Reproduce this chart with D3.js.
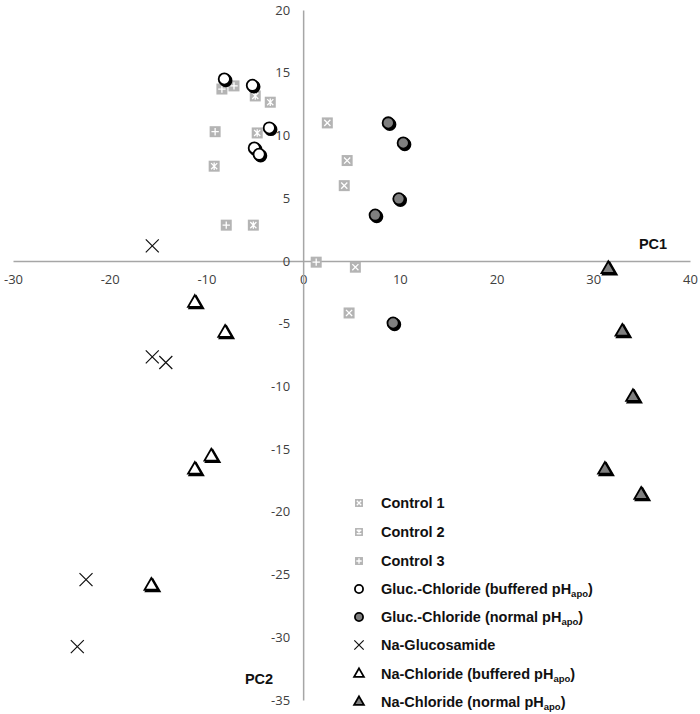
<!DOCTYPE html>
<meta charset="utf-8">
<style>
    body { margin: 0; background: #fff; }
    svg { display: block; }
    .tick text { font-family: "Open Sans", "Liberation Sans", sans-serif; font-size: 13px; fill: #404040; }
    .lbl { font-family: "Liberation Sans", Arial, sans-serif; font-weight: bold; font-size: 14.5px; fill: #111; }
</style>
<body>
<svg id="chart" width="700" height="714"></svg>
<script src="https://d3js.org/d3.v7.min.js"></script>
<script>
    // values, [PC1, PC2]
    var control1 = [[2.5, 11.0], [4.55, 8.0], [4.25, 6.0], [5.4, -0.5], [4.75, -4.15]];
    var control2 = [[-4.95, 13.15], [-3.4, 12.65], [-4.75, 10.2], [-9.2, 7.55], [-5.15, 2.85]];
    var control3 = [[-8.4, 13.7], [-7.15, 13.95], [-9.1, 10.3], [-7.95, 2.85], [1.35, -0.1]];
    var glucBuffered = [[-8.15, 14.5], [-5.25, 14.0], [-3.5, 10.6], [-5.05, 9.0], [-4.55, 8.5]];
    var glucNormal = [[8.8, 11.0], [10.35, 9.4], [9.9, 4.95], [7.45, 3.65], [9.3, -4.95]];
    var naGlucosamide = [[-15.6, 1.2], [-15.6, -7.65], [-14.2, -8.1], [-22.45, -25.4], [-23.35, -30.75]];
    var naclBuffered = [[-11.2, -3.35], [-8.07, -5.74], [-11.2, -16.65], [-9.5, -15.6], [-15.7, -25.9]];
    var naclNormal = [[31.55, -0.65], [33.0, -5.65], [34.1, -10.85], [31.2, -16.65], [34.95, -18.65]];

    var xTicks = [-30, -20, -10, 0, 10, 20, 30, 40];
    var yTicks = [20, 15, 10, 5, 0, -5, -10, -15, -20, -25, -30, -35];

    var svg = d3.select("#chart");
    var x = d3.scaleLinear().domain([-30, 40]).range([13, 690]),
        y = d3.scaleLinear().domain([-35, 20]).range([700, 10]);

    // plain hyphen for negatives, like the original
    var fmt = function (d) { return String(d); };

    // axes crossing at 0
    var xAxis = svg.append("g").attr("transform", "translate(0," + y(0) + ")")
        .call(d3.axisBottom(x).tickValues(xTicks).tickSize(0).tickPadding(19).tickFormat(fmt));
    var yAxis = svg.append("g").attr("transform", "translate(" + x(0) + ",0)")
        .call(d3.axisLeft(y).tickValues(yTicks).tickSize(0).tickPadding(13).tickFormat(fmt));
    svg.selectAll(".domain").attr("stroke", "#a6a6a6").attr("stroke-width", 1.5);
    svg.selectAll(".tick text").attr("font-family", null).attr("font-size", null);
    xAxis.selectAll(".tick text").attr("dy", "0.3em");

    svg.append("text").attr("class", "lbl").attr("x", 653).attr("y", 249).attr("text-anchor", "middle").text("PC1");
    svg.append("text").attr("class", "lbl").attr("x", 259).attr("y", 684).attr("text-anchor", "middle").text("PC2");

    // marker painters
    function squareMark(g, s, glyph) {
        g.append("rect").attr("x", -s / 2).attr("y", -s / 2).attr("width", s).attr("height", s).attr("fill", "#b4b4b4");
        var a = s * 0.28, p = "";
        if (glyph != "plus") p += "M" + -a + "," + -a + "L" + a + "," + a + "M" + -a + "," + a + "L" + a + "," + -a;
        if (glyph != "x") p += "M0," + -a * 1.2 + "L0," + a * 1.2;
        if (glyph == "plus") p += "M" + -a * 1.2 + ",0L" + a * 1.2 + ",0";
        g.append("path").attr("d", p).attr("stroke", "#fff").attr("stroke-width", 1.3).attr("fill", "none");
    }
    function shapeMark(g, type, size, fill, shadow) {
        var sym = d3.symbol().type(type).size(size)();
        if (shadow) g.append("path").attr("d", sym).attr("transform", "translate(1.5,1.5)")
            .attr("fill", "#000").attr("stroke", "#000").attr("stroke-width", 2);
        g.append("path").attr("d", sym).attr("fill", fill).attr("stroke", "#000").attr("stroke-width", 1.8);
    }
    function crossMark(g, s) {
        g.append("path").attr("d", "M" + -s + "," + -s + "L" + s + "," + s + "M" + -s + "," + s + "L" + s + "," + -s)
            .attr("stroke", "#111").attr("stroke-width", 1.2).attr("fill", "none");
    }

    var series = [
        { name: "Control 1", data: control1, draw: function (g, k) { squareMark(g, 11 * k, "x"); } },
        { name: "Control 2", data: control2, draw: function (g, k) { squareMark(g, 11 * k, "star"); } },
        { name: "Control 3", data: control3, draw: function (g, k) { squareMark(g, 11 * k, "plus"); } },
        { name: "Gluc.-Chloride (buffered pH", sub: "apo", data: glucBuffered, draw: function (g, k) { shapeMark(g, d3.symbolCircle, 100 * k * k, "#fff", k == 1); } },
        { name: "Gluc.-Chloride (normal pH", sub: "apo", data: glucNormal, draw: function (g, k) { shapeMark(g, d3.symbolCircle, 100 * k * k, "#7f7f7f", k == 1); } },
        { name: "Na-Glucosamide", data: naGlucosamide, draw: function (g, k) { crossMark(g, 6.5 * k); } },
        { name: "Na-Chloride (buffered pH", sub: "apo", data: naclBuffered, draw: function (g, k) { shapeMark(g, d3.symbolTriangle, 80 * k * k, "#fff", k == 1); } },
        { name: "Na-Chloride (normal pH", sub: "apo", data: naclNormal, draw: function (g, k) { shapeMark(g, d3.symbolTriangle, 80 * k * k, "#7f7f7f", k == 1); } }
    ];

    series.forEach(function (s) {
        svg.append("g").selectAll("g").data(s.data).enter().append("g")
            .attr("transform", function (d) { return "translate(" + x(d[0]) + "," + y(d[1]) + ")"; })
            .each(function () { s.draw(d3.select(this), 1); });
    });

    // legend
    var legRows = [503, 532, 561, 589, 617, 645, 674, 702];
    series.forEach(function (s, i) {
        var g = svg.append("g").attr("transform", "translate(359," + legRows[i] + ")");
        s.draw(g.append("g"), 0.72);
        var t = g.append("text").attr("class", "lbl").attr("x", 22).attr("y", 5).text(s.name);
        if (s.sub) {
            t.append("tspan").attr("font-size", "9.5px").attr("dy", 3).text(s.sub);
            t.append("tspan").attr("dy", -3).text(")");
        }
    });
</script>
</body>
